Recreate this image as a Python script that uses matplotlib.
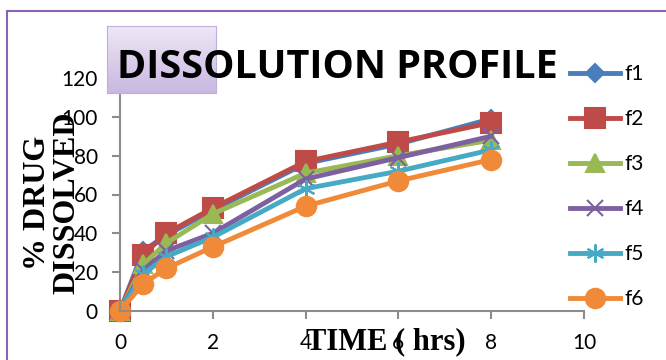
import numpy as np
import matplotlib.pyplot as plt
from matplotlib.patches import Rectangle

# data
time = [0, 0.5, 1, 2, 4, 6, 8]
f1 = [0, 31, 39, 52, 76, 86, 99]
f2 = [0, 29, 40, 53, 77, 87, 97]
f3 = [0, 24, 35, 50, 71, 80, 88]
f4 = [0, 21, 31, 40, 68, 79, 90]
f5 = [0, 19, 28, 38, 63, 72, 83]
f6 = [0, 14, 22, 33, 54, 67, 78]
names = ['f1', 'f2', 'f3', 'f4', 'f5', 'f6']
xticks = [0, 2, 4, 6, 8, 10]
yticks = [0, 20, 40, 60, 80, 100, 120]

colors = ['#4A7EBB', '#BE4B48', '#98B954', '#7D60A0', '#46AAC5', '#F08A38']
markers = ['D', 's', '^', 'x', (6, 2, 0), 'o']
msizes = [9, 14, 13, 11, 13, 14]

W, H = 666, 360
fig = plt.figure(figsize=(6.66, 3.6), dpi=100)

# outer chart border (purple)
fig.patches.append(Rectangle((7 / W, -0.1), 1.2, (360 - 11) / H + 0.1, transform=fig.transFigure,
                             fill=False, edgecolor='#8A63B8', linewidth=1.5))

ax = fig.add_axes([120 / W, 49 / H, 464 / W, 233 / H])
series = [f1, f2, f3, f4, f5, f6]
for s, name, c, m, ms in zip(series, names, colors, markers, msizes):
    ax.plot(time, s, color=c, linewidth=3.5, marker=m, markersize=ms,
            markeredgewidth=1.5, markeredgecolor=c, label=name, clip_on=False)

ax.set_xlim(0, 10)
ax.set_ylim(0, 120)
ax.set_xticks(xticks)
ax.set_yticks(yticks)
ax.spines['top'].set_visible(False)
ax.spines['right'].set_visible(False)
for sp in ['left', 'bottom']:
    ax.spines[sp].set_color('#8C8C8C')
    ax.spines[sp].set_linewidth(1.5)
ax.tick_params(colors='#8C8C8C', length=6, width=1.5, labelcolor='black',
               labelsize=15, pad=10)
for lab in ax.get_xticklabels() + ax.get_yticklabels():
    lab.set_family('Lato')

leg = ax.legend(loc='upper left', bbox_to_anchor=((562 - 120) / 464, 1.095), frameon=False,
                prop={'family': 'Lato', 'size': 15}, handlelength=2.4,
                labelspacing=1.2, handletextpad=0.2, borderaxespad=0)

# title box with purple gradient
bax = fig.add_axes([107 / W, (360 - 93) / H, 109 / W, 67 / H])
grad = np.linspace(0, 1, 100).reshape(-1, 1)
bax.imshow(grad, aspect='auto', cmap=plt.matplotlib.colors.LinearSegmentedColormap.from_list(
    'box', ['#EEE8F6', '#C9B7E1']), extent=[0, 1, 0, 1])
bax.set_xticks([])
bax.set_yticks([])
for sp in bax.spines.values():
    sp.set_color('#BFAEDA')

fig.text(117 / W, (360 - 78) / H, 'DISSOLUTION PROFILE', family='Open Sans',
         fontweight='bold', fontsize=28.5, va='baseline', ha='left', zorder=10)

fig.text(52 / W, (360 - 203) / H, '% DRUG\nDISSOLVED', family='Liberation Serif',
         fontweight='bold', fontsize=23, rotation=90, ha='center', va='center',
         multialignment='center', linespacing=1.0)
fig.text(386 / W, (360 - 342) / H, 'TIME ( hrs)', family='Liberation Serif',
         fontweight='bold', fontsize=22, ha='center', va='center')

fig.savefig('out.png', dpi=100)
